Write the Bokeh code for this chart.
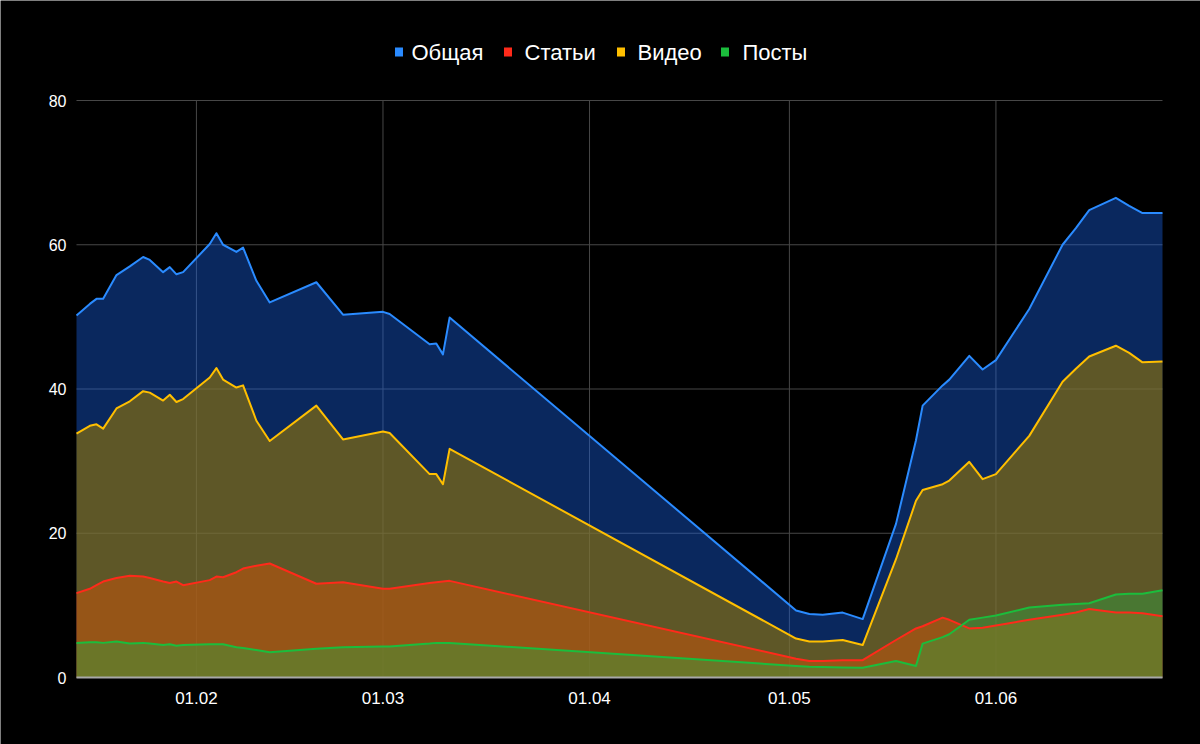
import pandas as pd
from bokeh.plotting import figure
from bokeh.models import Range1d, ColumnDataSource
from bokeh.core.properties import value
from bokeh.embed import file_html
from bokeh.resources import INLINE

dates = ["2023-01-14", "2023-01-16", "2023-01-17", "2023-01-18", "2023-01-20", "2023-01-22",
         "2023-01-24", "2023-01-25", "2023-01-27", "2023-01-28", "2023-01-29", "2023-01-30",
         "2023-02-03", "2023-02-04", "2023-02-05", "2023-02-07", "2023-02-08", "2023-02-10",
         "2023-02-12", "2023-02-19", "2023-02-23", "2023-03-01", "2023-03-02", "2023-03-08",
         "2023-03-09", "2023-03-10", "2023-03-11", "2023-05-02", "2023-05-04", "2023-05-06",
         "2023-05-09", "2023-05-12", "2023-05-17", "2023-05-20", "2023-05-21", "2023-05-24",
         "2023-05-25", "2023-05-28", "2023-05-30", "2023-06-01", "2023-06-06", "2023-06-11",
         "2023-06-13", "2023-06-15", "2023-06-19", "2023-06-21", "2023-06-23", "2023-06-26"]

total = [50.2, 51.8, 52.5, 52.5, 55.8, 57.0, 58.3, 57.9, 56.2, 56.9, 55.9, 56.2,
         60.1, 61.6, 60.0, 59.0, 59.6, 55.0, 52.0, 54.8, 50.3, 50.7, 50.4, 46.2,
         46.3, 44.8, 49.9, 9.3, 8.8, 8.7, 9.0, 8.1, 21.3, 32.9, 37.7, 40.5,
         41.3, 44.6, 42.7, 44.0, 51.1, 60.0, 62.3, 64.8, 66.5, 65.4, 64.4, 64.4]

articles = [11.7, 12.3, 12.8, 13.3, 13.8, 14.1, 14.0, 13.8, 13.3, 13.1, 13.3, 12.8,
            13.5, 14.0, 13.9, 14.6, 15.1, 15.5, 15.8, 13.0, 13.2, 12.3, 12.3, 13.1,
            13.2, 13.3, 13.4, 2.6, 2.3, 2.3, 2.4, 2.4, 5.2, 6.8, 7.1, 8.3,
            8.0, 6.8, 6.9, 7.2, 8.0, 8.7, 9.0, 9.5, 9.0, 9.0, 8.9, 8.5]

video = [33.8, 34.9, 35.1, 34.5, 37.3, 38.3, 39.7, 39.5, 38.4, 39.2, 38.2, 38.6,
         41.6, 42.9, 41.3, 40.2, 40.5, 35.6, 32.8, 37.7, 33.0, 34.1, 33.9, 28.2,
         28.2, 26.8, 31.7, 5.4, 5.0, 5.0, 5.2, 4.5, 16.4, 24.5, 26.0, 26.8,
         27.3, 29.9, 27.5, 28.2, 33.5, 41.0, 42.8, 44.5, 46.0, 45.0, 43.7, 43.8]

posts = [4.8, 4.9, 4.9, 4.8, 5.0, 4.7, 4.8, 4.7, 4.5, 4.6, 4.4, 4.5,
         4.6, 4.6, 4.6, 4.2, 4.1, 3.8, 3.5, 4.0, 4.2, 4.3, 4.3, 4.7,
         4.8, 4.8, 4.8, 1.6, 1.5, 1.45, 1.4, 1.35, 2.3, 1.6, 4.7, 5.6,
         6.0, 8.0, 8.3, 8.6, 9.7, 10.1, 10.2, 10.3, 11.5, 11.6, 11.6, 12.1]

series_names = ["Общая", "Статьи", "Видео", "Посты"]
series_cols = ["total", "articles", "video", "posts"]
line_colors = ["#2a8bff", "#ff2a1a", "#ffbf00", "#1bbd3c"]
fill_colors = ["#1964eb", "#f3201a", "#967604", "#2aa743"]
fill_alphas = [0.40, 0.60, 0.60, 0.40]
tick_dates = ["2023-02-01", "2023-03-01", "2023-04-01", "2023-05-01", "2023-06-01"]
tick_labels = ["01.02", "01.03", "01.04", "01.05", "01.06"]
y_ticks = [0, 20, 40, 60, 80]
y_tick_labels = ["0", "20", "40", "60", "80"]

# ---- layout (pixels on the 1200x744 canvas) ----
W, H = 1200, 744
plot_left, plot_right, plot_bottom, plot_top = 76, 1162, 677, 100
legend_square_px = [398.5, 507.5, 620.5, 724.5]
legend_text_px = [411, 524, 637, 742]
legend_y_px = 51.5
x_label_y_px = 697
y_label_right_px = 66

x_start = pd.Timestamp(dates[0])
x_end = pd.Timestamp(dates[-1])
span = x_end - x_start
px_w = plot_right - plot_left
y_max = y_ticks[-1]
ppu = (plot_bottom - plot_top) / y_max


def px_to_x(px):
    return x_start + span * (px - plot_left) / px_w


def py_to_y(py):
    return (plot_bottom - py) / ppu


df = pd.DataFrame({"date": pd.to_datetime(dates), "total": total, "articles": articles,
                   "video": video, "posts": posts})
src = ColumnDataSource(df)

# the frame covers the whole canvas; axes and legend are drawn as text marks
p = figure(width=W, height=H, output_backend="svg", toolbar_location=None,
           x_range=Range1d(start=px_to_x(0), end=px_to_x(W)),
           y_range=Range1d(start=py_to_y(H), end=py_to_y(0)),
           x_axis_type=None, y_axis_type=None, min_border=0)
p.background_fill_color = "#000000"
p.border_fill_color = "#000000"
p.outline_line_color = None

tick_ts = [pd.Timestamp(d) for d in tick_dates]

# gridlines
grid_color = "#474747"
p.segment(x0=tick_ts, x1=tick_ts, y0=[0] * len(tick_ts), y1=[y_max] * len(tick_ts),
          line_color=grid_color, line_width=1)
p.segment(x0=[x_start] * len(y_ticks), x1=[x_end] * len(y_ticks), y0=y_ticks, y1=y_ticks,
          line_color=grid_color, line_width=1)

# areas then lines
for fc, fa, col in zip(fill_colors, fill_alphas, series_cols):
    p.varea(x="date", y1=0, y2=col, source=src, fill_color=fc, fill_alpha=fa)
for lc, col in zip(line_colors, series_cols):
    p.line(x="date", y=col, source=src, line_color=lc, line_width=2, line_join="round")

# baseline
p.segment(x0=[x_start], x1=[x_end], y0=[0], y1=[0], line_color="#a8a8a8", line_width=2)

# axis labels
font = value("Liberation Sans")
p.text(x=tick_ts, y=[py_to_y(x_label_y_px)] * len(tick_ts), text=tick_labels,
       text_align="center", text_baseline="middle", text_color="#ffffff",
       text_font=font, text_font_size="17px")
p.text(x=[px_to_x(y_label_right_px)] * len(y_ticks), y=y_ticks, text=y_tick_labels,
       text_align="right", text_baseline="middle", text_color="#ffffff",
       text_font=font, text_font_size="16px")

# legend (top, centred)
ly = py_to_y(legend_y_px)
p.rect(x=[px_to_x(v) for v in legend_square_px], y=[ly] * 4,
       width=8, height=9, width_units="screen", height_units="screen",
       fill_color=line_colors, line_color=None)
p.text(x=[px_to_x(v) for v in legend_text_px], y=[ly] * 4, text=series_names,
       text_baseline="middle", text_align="left", text_color="#ffffff",
       text_font=font, text_font_size="22px")

open("out.html", "w").write(file_html(p, INLINE))
